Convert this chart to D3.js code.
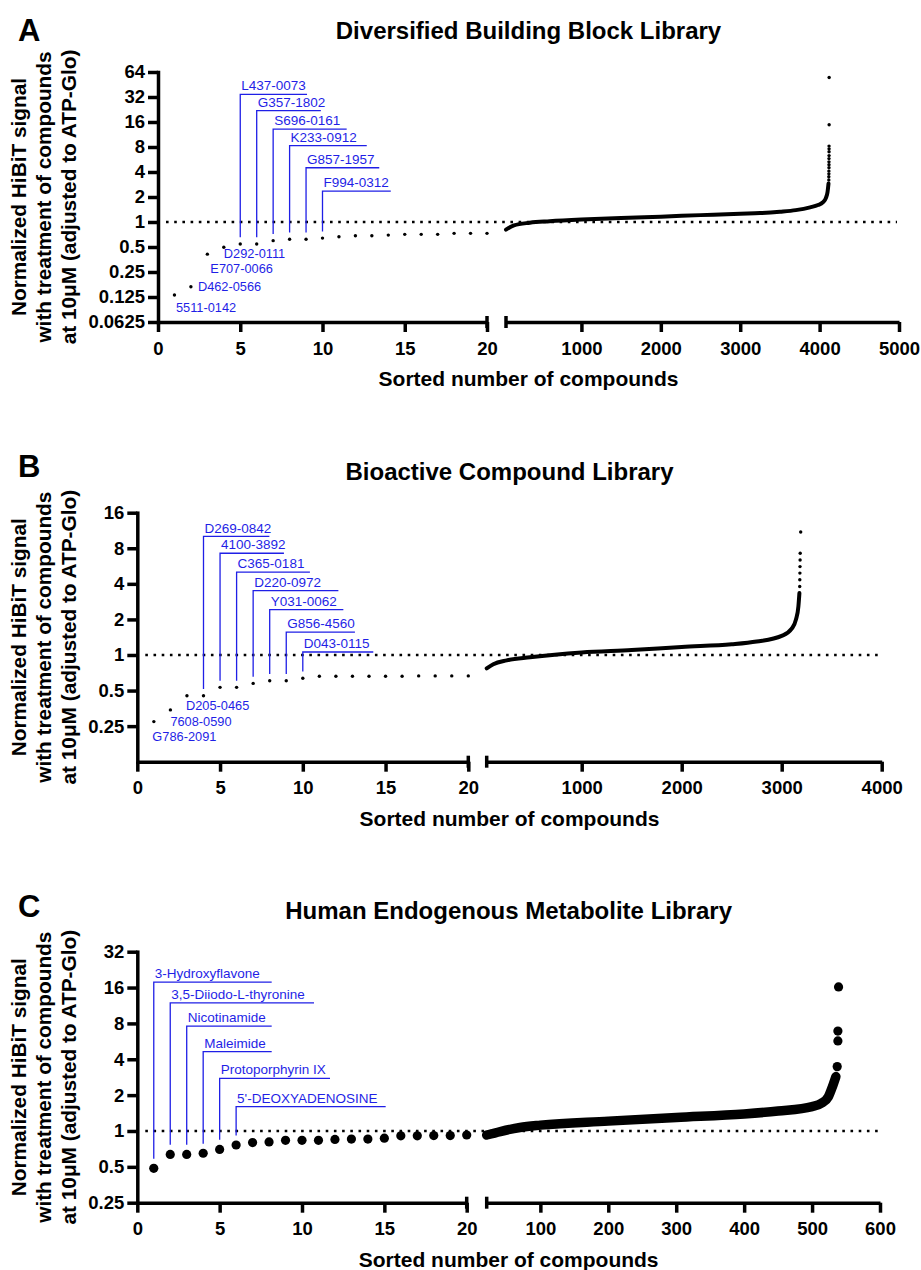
<!DOCTYPE html>
<html>
<head>
<meta charset="utf-8">
<script src="https://cdn.jsdelivr.net/npm/d3@7"></script>
<style>
  body { margin: 0; background: #fff; }
  text { font-family: Arial, "Liberation Sans", sans-serif; }
</style>
</head>
<body>
<svg id="fig" width="921" height="1270"></svg>
<script>

// ---------- data ----------

// Panel A : Diversified Building Block Library
var aLeftValues = [0.132, 0.166, 0.41, 0.496, 0.543, 0.543, 0.596, 0.62, 0.62, 0.64,
                   0.665, 0.684, 0.684, 0.695, 0.71, 0.71, 0.71, 0.73, 0.73, 0.73];
var aCurveRank  = [50, 150, 350, 600, 1000, 1500, 2000, 2500, 3000, 3250, 3500, 3700, 3880, 3980, 4040, 4080, 4100, 4112];
var aCurveValue = [0.81, 0.91, 0.98, 1.02, 1.07, 1.12, 1.16, 1.21, 1.26, 1.28, 1.33, 1.39, 1.5, 1.6, 1.72, 1.95, 2.3, 2.9];
var aTailRank   = [4116, 4116, 4117, 4117, 4118, 4118, 4118, 4118, 4119, 4119, 4119, 4119, 4120, 4120];
var aTailValue  = [3.2, 3.5, 3.8, 4.1, 4.5, 4.9, 5.3, 5.8, 6.3, 7.0, 7.6, 8.2, 14.8, 55];
var aTopNames   = ["L437-0073", "G357-1802", "S696-0161", "K233-0912", "G857-1957", "F994-0312"];
var aTopIdx     = [5, 6, 7, 8, 9, 10];
var aTopLevel   = [34.5, 21.9, 13.1, 8.3, 4.5, 2.36];
var aTopEnd     = [9.06, 9.9, 11.47, 12.69, 13.45, 14.15];
var aLowNames   = ["5511-0142", "D462-0566", "E707-0066", "D292-0111"];
var aLowIdx     = [1, 2, 3, 4];

// Panel B : Bioactive Compound Library
var bLeftValues = [0.273, 0.343, 0.452, 0.452, 0.532, 0.532, 0.575, 0.605, 0.605, 0.636,
                   0.66, 0.66, 0.66, 0.66, 0.66, 0.66, 0.665, 0.665, 0.665, 0.665];
var bCurveRank  = [50, 116, 250, 483, 1000, 1500, 2000, 2500, 2750, 3000, 3100, 3143, 3167, 3177];
var bCurveValue = [0.77, 0.835, 0.9, 0.956, 1.05, 1.10, 1.17, 1.23, 1.30, 1.45, 1.67, 2.0, 2.58, 3.34];
var bTailRank   = [3180, 3181, 3182, 3183, 3184, 3185, 3190];
var bTailValue  = [3.8, 4.33, 4.93, 5.6, 6.37, 7.25, 11.0];
var bTopNames   = ["D269-0842", "4100-3892", "C365-0181", "D220-0972", "Y031-0062", "G856-4560", "D043-0115"];
var bTopIdx     = [4, 5, 6, 7, 8, 9, 10];
var bTopLevel   = [10.1, 7.26, 5.03, 3.5, 2.42, 1.56, 1.06];
var bTopEnd     = [7.98, 8.86, 10.43, 12.15, 12.45, 13.15, 14.26];
var bLowNames   = ["G786-2091", "7608-0590", "D205-0465"];
var bLowIdx     = [1, 2, 3];

// Panel C : Human Endogenous Metabolite Library
var cLeftValues = [0.486, 0.636, 0.636, 0.65, 0.70, 0.763, 0.80, 0.81, 0.835, 0.835,
                   0.835, 0.85, 0.855, 0.855, 0.87, 0.91, 0.91, 0.915, 0.915, 0.925];
var cCurveRank  = [21, 41, 70, 100, 200, 300, 400, 450, 500, 514, 524, 530, 535];
var cCurveValue = [0.925, 0.99, 1.07, 1.12, 1.21, 1.30, 1.39, 1.47, 1.60, 1.71, 1.94, 2.36, 2.86];
var cTailRank   = [537, 538, 538, 539];
var cTailValue  = [3.47, 5.7, 6.9, 16.2];
var cTopNames   = ["3-Hydroxyflavone", "3,5-Diiodo-L-thyronine", "Nicotinamide", "Maleimide", "Protoporphyrin IX", "5'-DEOXYADENOSINE"];
var cTopIdx     = [1, 2, 3, 4, 5, 6];
var cTopLevel   = [17.8, 11.9, 7.6, 4.64, 2.77, 1.6];
var cTopEnd     = [8.16, 10.73, 8.16, 8.16, 11.7, 15.08];

var leftTicks = [0, 5, 10, 15, 20];

// ---------- layout ----------
var BLUE = "#1f1fe6";
var svg = d3.select("#fig");

var panels = [
  { letter: "A", title: "Diversified Building Block Library",
    letterY: 41, titleY: 39,
    yTop: 72, yBottom: 322, xLeft: 158, xBreak: 487, xRightStart: 506, xRightEnd: 899,
    yDomain: [0.0625, 64], yTicks: [0.0625, 0.125, 0.25, 0.5, 1, 2, 4, 8, 16, 32, 64],
    rightDomain: [50, 5000], rightTicks: [1000, 2000, 3000, 4000, 5000],
    left: aLeftValues, curveRank: aCurveRank, curveValue: aCurveValue,
    tailRank: aTailRank, tailValue: aTailValue,
    topNames: aTopNames, topIdx: aTopIdx, topLevel: aTopLevel, topEnd: aTopEnd,
    lowNames: aLowNames, lowIdx: aLowIdx,
    lowOffset: [[1.5, 16.7], [7, 4.5], [3, 18.5], [0, 10.3]],
    r: 1.7, curveWidth: 4 },
  { letter: "B", title: "Bioactive Compound Library",
    letterY: 477, titleY: 480,
    yTop: 512.7, yBottom: 761.7, xLeft: 137.3, xBreak: 468.3, xRightStart: 486.7, xRightEnd: 881.7,
    yDomain: [0.125, 16], yTicks: [0.25, 0.5, 1, 2, 4, 8, 16],
    rightDomain: [50, 4000], rightTicks: [1000, 2000, 3000, 4000],
    left: bLeftValues, curveRank: bCurveRank, curveValue: bCurveValue,
    tailRank: bTailRank, tailValue: bTailValue,
    topNames: bTopNames, topIdx: bTopIdx, topLevel: bTopLevel, topEnd: bTopEnd,
    lowNames: bLowNames, lowIdx: bLowIdx,
    lowOffset: [[-1.5, 19.2], [0, 15.7], [-1, 14.6]],
    r: 1.7, curveWidth: 4 },
  { letter: "C", title: "Human Endogenous Metabolite Library",
    letterY: 917, titleY: 919,
    yTop: 951.7, yBottom: 1202.7, xLeft: 137.3, xBreak: 466.7, xRightStart: 486.7, xRightEnd: 880,
    yDomain: [0.25, 32], yTicks: [0.25, 0.5, 1, 2, 4, 8, 16, 32],
    rightDomain: [21, 600], rightTicks: [100, 200, 300, 400, 500, 600],
    left: cLeftValues, curveRank: cCurveRank, curveValue: cCurveValue,
    tailRank: cTailRank, tailValue: cTailValue,
    topNames: cTopNames, topIdx: cTopIdx, topLevel: cTopLevel, topEnd: cTopEnd,
    lowNames: [], lowIdx: [], lowOffset: [],
    r: 4.6, curveWidth: 9.5 }
];

function styleAxis(ax) {
  ax.select(".domain").attr("stroke-width", 3.5).attr("stroke-linecap", "square");
  ax.selectAll(".tick line").attr("stroke-width", 3.5);
  ax.selectAll(".tick text")
    .style("font-size", "18.5px").style("font-weight", "bold").attr("fill", "#000");
}

function drawPanel(p) {
  var g = svg.append("g");

  var y = d3.scaleLog().base(2).domain(p.yDomain).range([p.yBottom, p.yTop]);
  var xL = d3.scaleLinear().domain([0, 20]).range([p.xLeft, p.xBreak]);
  var xR = d3.scaleLinear().domain(p.rightDomain).range([p.xRightStart, p.xRightEnd]);
  var midX = (p.xLeft + p.xRightEnd) / 2;

  // panel letter and title
  g.append("text").attr("x", 18).attr("y", p.letterY)
    .style("font-size", "31px").style("font-weight", "bold").text(p.letter);
  g.append("text").attr("x", midX).attr("y", p.titleY).attr("text-anchor", "middle")
    .style("font-size", "24px").style("font-weight", "bold").text(p.title);

  // y axis title, three rotated lines
  var yLines = ["Normalized HiBiT signal", "with treatment of compounds", "at 10\u03bcM (adjusted to ATP-Glo)"];
  var yMid = (p.yTop + p.yBottom) / 2;
  yLines.forEach(function(t, i) {
    g.append("text")
      .attr("transform", "translate(" + (26 + i * 25) + "," + yMid + ") rotate(-90)")
      .attr("text-anchor", "middle")
      .style("font-size", "20.8px").style("font-weight", "bold").text(t);
  });

  // x axis title
  g.append("text").attr("x", midX).attr("y", p.yBottom + 64).attr("text-anchor", "middle")
    .style("font-size", "21px").style("font-weight", "bold").text("Sorted number of compounds");

  // reference line at 1
  g.append("line")
    .attr("x1", p.xLeft + 8).attr("x2", p.xRightEnd - 2)
    .attr("y1", y(1)).attr("y2", y(1))
    .attr("stroke", "#000").attr("stroke-width", 2.6)
    .attr("stroke-dasharray", "2.6 5.6");

  // axes
  var ya = g.append("g").attr("transform", "translate(" + p.xLeft + ",0)")
    .call(d3.axisLeft(y).tickValues(p.yTicks).tickFormat(function(d) { return String(d); })
      .tickSize(10).tickSizeOuter(0).tickPadding(3));
  styleAxis(ya);

  var xla = g.append("g").attr("transform", "translate(0," + p.yBottom + ")")
    .call(d3.axisBottom(xL).tickValues(leftTicks).tickFormat(d3.format("d"))
      .tickSize(10).tickSizeOuter(0).tickPadding(9.5));
  styleAxis(xla);
  xla.select(".domain").attr("stroke-linecap", "butt");

  var xra = g.append("g").attr("transform", "translate(0," + p.yBottom + ")")
    .call(d3.axisBottom(xR).tickValues(p.rightTicks).tickFormat(d3.format("d"))
      .tickSize(10).tickSizeOuter(0).tickPadding(9.5));
  styleAxis(xra);
  xra.select(".domain").attr("stroke-linecap", "butt");

  // break caps
  [p.xBreak, p.xRightStart].forEach(function(bx) {
    g.append("line").attr("x1", bx).attr("x2", bx)
      .attr("y1", p.yBottom - 6).attr("y2", p.yBottom + 6)
      .attr("stroke", "#000").attr("stroke-width", 3.5);
  });

  // annotations with leader lines
  p.topNames.forEach(function(name, i) {
    var idx = p.topIdx[i];
    var lx = xL(idx), ly = y(p.topLevel[i]);
    var py = y(p.left[idx - 1]);
    g.append("polyline")
      .attr("points", [[lx, py - p.r - 5], [lx, ly], [xL(p.topEnd[i]), ly]].join(" "))
      .attr("fill", "none").attr("stroke", BLUE).attr("stroke-width", 1.3);
    g.append("text").attr("x", lx + 1).attr("y", ly - 3.8)
      .attr("fill", BLUE).style("font-size", "13.5px").text(name);
  });

  // annotations without leader lines
  p.lowNames.forEach(function(name, i) {
    var idx = p.lowIdx[i];
    g.append("text")
      .attr("x", xL(idx) + p.lowOffset[i][0])
      .attr("y", y(p.left[idx - 1]) + p.lowOffset[i][1])
      .attr("fill", BLUE).style("font-size", "12.8px").text(name);
  });

  // first 20 compounds
  g.append("g").selectAll("circle")
    .data(p.left).enter().append("circle")
    .attr("cx", function(d, i) { return xL(i + 1); })
    .attr("cy", function(d) { return y(d); })
    .attr("r", p.r).attr("fill", "#000");

  // remaining compounds: dense run drawn as a thick trace
  var pts = p.curveRank.map(function(r, i) { return [r, p.curveValue[i]]; });
  var line = d3.line()
    .x(function(d) { return xR(d[0]); })
    .y(function(d) { return y(d[1]); })
    .curve(d3.curveMonotoneX);
  g.append("path").datum(pts).attr("d", line)
    .attr("fill", "none").attr("stroke", "#000")
    .attr("stroke-width", p.curveWidth).attr("stroke-linecap", "round").attr("stroke-linejoin", "round");

  // isolated top hits
  g.append("g").selectAll("circle")
    .data(p.tailRank).enter().append("circle")
    .attr("cx", function(d) { return xR(d); })
    .attr("cy", function(d, i) { return y(p.tailValue[i]); })
    .attr("r", p.r).attr("fill", "#000");
}

panels.forEach(drawPanel);

</script>
</body>
</html>
